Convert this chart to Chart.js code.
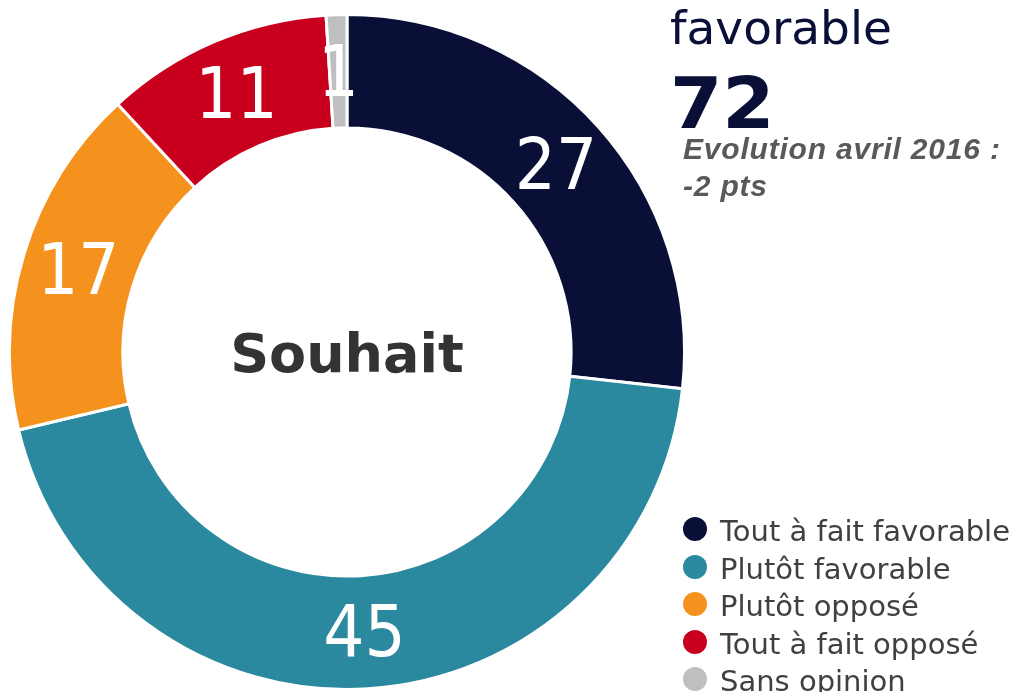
<!DOCTYPE html>
<html>
<head>
<meta charset="utf-8">
<script src="https://cdn.jsdelivr.net/npm/chart.js@4"></script>
<style>
  html, body { margin:0; padding:0; background:#fff; }
  body { width:1023px; height:692px; overflow:hidden; position:relative; }
  #wrap { position:absolute; left:0; top:0; width:1023px; height:692px; }
  .t { position:absolute; white-space:nowrap; line-height:1; }
  #fav { left:670px; top:0px; font:47px "DejaVu Sans", sans-serif; color:#0a0f38; }
  #total { left:670px; top:62px; font:bold 71px "DejaVu Sans", sans-serif; color:#0a0f38; transform:scaleX(1.06); transform-origin:left top; }
  .evo { left:683px; font:italic bold 30px "Liberation Sans", Arial, sans-serif; color:#595959; letter-spacing:0.8px; }
  #center { left:147px; width:400px; text-align:center; top:322px; font:bold 54px "DejaVu Sans", sans-serif; color:#333333; }
  #enpct { left:37px; top:686px; font:italic bold 26px "Liberation Sans", Arial, sans-serif; color:#404040; }
  #legend { position:absolute; left:0; top:0; }
  .lg-dot { position:absolute; width:24px; height:24px; border-radius:50%; }
  .lg-txt { position:absolute; white-space:nowrap; line-height:1; font:29px "DejaVu Sans", sans-serif; color:#404040; }
</style>
</head>
<body>
<div id="wrap"><canvas id="c" width="1023" height="692"></canvas></div>
<div class="t" id="fav">favorable</div>
<div class="t" id="total">72</div>
<div class="t evo" style="top:132px">Evolution avril 2016 :</div>
<div class="t evo" style="top:169px">-2 pts</div>
<div class="t" id="center">Souhait</div>
<div class="t" id="enpct">En %</div>
<div id="legend"></div>
<script>
const categories = ["Tout à fait favorable", "Plutôt favorable", "Plutôt opposé", "Tout à fait opposé", "Sans opinion"];
const values = [27, 45, 17, 11, 1];
const colors = ["#0a0f38", "#2a899e", "#f5921e", "#c8001e", "#bfbfbf"];

// HTML legend built from the data arrays
const legend = document.getElementById('legend');
categories.forEach((name, i) => {
  const cy = 529 + i * 37.5;
  const dot = document.createElement('div');
  dot.className = 'lg-dot';
  dot.style.left = (695 - 12) + 'px';
  dot.style.top = (cy - 12) + 'px';
  dot.style.background = colors[i];
  legend.appendChild(dot);
  const txt = document.createElement('div');
  txt.className = 'lg-txt';
  txt.style.left = '720px';
  txt.style.top = (cy + 10 - 0.846 * 29) + 'px';
  txt.textContent = name;
  legend.appendChild(txt);
});

const sliceLabels = {
  id: 'sliceLabels',
  afterDatasetsDraw(chart) {
    const ctx = chart.ctx;
    const meta = chart.getDatasetMeta(0);
    const size = 72;
    ctx.save();
    ctx.fillStyle = '#ffffff';
    ctx.font = size + 'px "DejaVu Sans Condensed", "DejaVu Sans", sans-serif';
    ctx.textAlign = 'center';
    ctx.textBaseline = 'alphabetic';
    meta.data.forEach((arc, i) => {
      const p = arc.tooltipPosition();
      ctx.fillText(String(chart.data.datasets[0].data[i]), p.x, p.y + 0.364 * size - 2);
    });
    ctx.restore();
  }
};

new Chart(document.getElementById('c'), {
  type: 'doughnut',
  data: {
    labels: categories,
    datasets: [{
      data: values,
      backgroundColor: colors,
      borderColor: '#ffffff',
      borderWidth: 3
    }]
  },
  options: {
    responsive: false,
    animation: false,
    cutout: '66.4%',
    rotation: 0,
    layout: { padding: { left: 8, top: 13, right: 337, bottom: 1 } },
    plugins: {
      legend: { display: false },
      tooltip: { enabled: false }
    }
  },
  plugins: [sliceLabels]
});
</script>
</body>
</html>
